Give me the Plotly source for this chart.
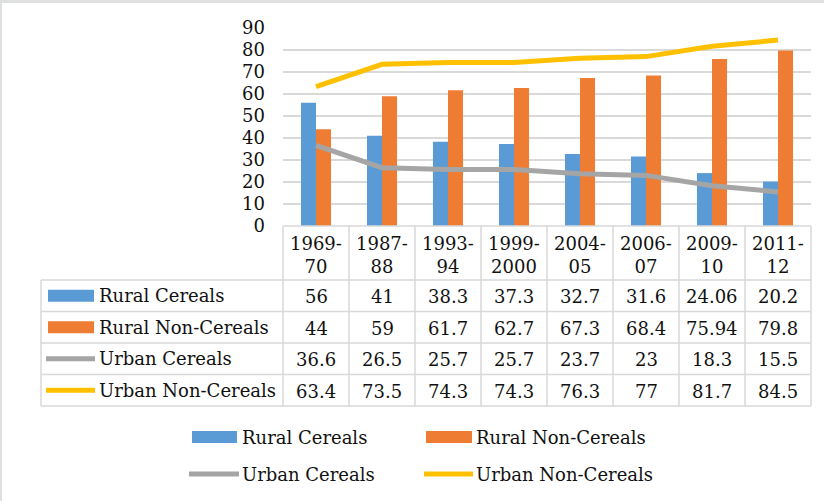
import plotly.graph_objects as go

periods = ["1969-70", "1987-88", "1993-94", "1999-2000", "2004-05", "2006-07", "2009-10", "2011-12"]
rural_cereals = [56, 41, 38.3, 37.3, 32.7, 31.6, 24.06, 20.2]
rural_non_cereals = [44, 59, 61.7, 62.7, 67.3, 68.4, 75.94, 79.8]
urban_cereals = [36.6, 26.5, 25.7, 25.7, 23.7, 23, 18.3, 15.5]
urban_non_cereals = [63.4, 73.5, 74.3, 74.3, 76.3, 77, 81.7, 84.5]

BLUE = '#5B9BD5'
ORANGE = '#EE7D33'
GREY = '#A5A5A5'
YELLOW = '#FFC000'
GRID = '#D9D9D9'
FONT = 'DejaVu Serif'
TXT = '#111111'

W, H = 824, 501
# plot area in pixels
L, R, T, B = 283, 811, 28, 226


def px(x):
	return (x - L) / (R - L)


def py(y):
	return (B - y) / (B - T)


series = [
	('Rural Cereals', rural_cereals, 'bar', BLUE),
	('Rural Non-Cereals', rural_non_cereals, 'bar', ORANGE),
	('Urban Cereals', urban_cereals, 'line', GREY),
	('Urban Non-Cereals', urban_non_cereals, 'line', YELLOW),
]

fig = go.Figure()
for name, vals, kind, col in series:
	if kind == 'bar':
		fig.add_trace(go.Bar(x=periods, y=vals, name=name, marker=dict(color=col, line=dict(width=0)),
							 showlegend=False, hoverinfo='y+name'))
for name, vals, kind, col in series:
	if kind == 'line':
		fig.add_trace(go.Scatter(x=periods, y=vals, name=name, mode='lines',
								 line=dict(color=col, width=5), showlegend=False))

shapes = []
annotations = []
line_style = dict(color=GRID, width=1.5)

# table grid
top_hdr, hdr_bot = 226, 280
row_h = 31.5
tab_left, tab_bot = 41, hdr_bot + 4 * row_h
col_w = (R - L) / len(periods)
# horizontal lines
shapes.append(dict(type='line', xref='paper', yref='paper', x0=px(L), x1=px(R), y0=py(top_hdr), y1=py(top_hdr), line=line_style))
for i in range(5):
	yy = hdr_bot + i * row_h
	shapes.append(dict(type='line', xref='paper', yref='paper', x0=px(tab_left), x1=px(R), y0=py(yy), y1=py(yy), line=line_style))
# vertical lines
shapes.append(dict(type='line', xref='paper', yref='paper', x0=px(tab_left), x1=px(tab_left), y0=py(hdr_bot), y1=py(tab_bot), line=line_style))
for i in range(len(periods) + 1):
	xx = L + i * col_w
	shapes.append(dict(type='line', xref='paper', yref='paper', x0=px(xx), x1=px(xx), y0=py(top_hdr), y1=py(tab_bot), line=line_style))

# header labels
for p in periods:
	annotations.append(dict(x=p, xref='x', y=py(255), yref='paper', text=p.replace('-', '-<br>'),
							showarrow=False, font=dict(family=FONT, size=18, color=TXT), xanchor='center', yanchor='middle'))


def key(x0, x1, yc, kind, col):
	if kind == 'bar':
		return dict(type='rect', xref='paper', yref='paper', x0=px(x0), x1=px(x1), y0=py(yc - 6), y1=py(yc + 6),
					fillcolor=col, line=dict(width=0))
	return dict(type='line', xref='paper', yref='paper', x0=px(x0), x1=px(x1), y0=py(yc), y1=py(yc),
				line=dict(color=col, width=5))


# rows
for r, (name, vals, kind, col) in enumerate(series):
	yc = hdr_bot + (r + 0.5) * row_h
	if kind == 'bar':
		shapes.append(key(48, 94, yc, kind, col))
	else:
		shapes.append(key(46, 95, yc, kind, col))
	annotations.append(dict(x=px(97), xref='paper', y=py(yc), yref='paper', text=name, showarrow=False,
							font=dict(family=FONT, size=18, color=TXT), xanchor='left', yanchor='middle'))
	for p, v in zip(periods, vals):
		annotations.append(dict(x=p, xref='x', y=py(yc + 1), yref='paper', text=str(v), showarrow=False,
								font=dict(family=FONT, size=18, color=TXT), xanchor='center', yanchor='middle'))

# bottom legend
leg_pos = [(192, 237, 437, 240), (426, 472, 437, 474), (189, 239, 474, 240), (424, 473, 474, 474)]
for (name, vals, kind, col), (x0, x1, yc, tx) in zip(series, leg_pos):
	shapes.append(key(x0, x1, yc, kind, col))
	annotations.append(dict(x=px(tx), xref='paper', y=py(yc), yref='paper', text=name, showarrow=False,
							font=dict(family=FONT, size=18, color=TXT), xanchor='left', yanchor='middle'))

# chart border (top/left edge visible)
shapes.append(dict(type='line', xref='paper', yref='paper', x0=px(0), x1=px(W), y0=py(1.5), y1=py(1.5),
				   line=dict(color='#DFE1E1', width=3)))
shapes.append(dict(type='line', xref='paper', yref='paper', x0=px(1), x1=px(1), y0=py(0), y1=py(H),
				   line=dict(color='#DFE1E1', width=2)))

fig.update_layout(
	width=W,
	height=H,
	autosize=False,
	margin=dict(l=L, r=W - R, t=T, b=H - B, pad=0),
	paper_bgcolor='white',
	plot_bgcolor='white',
	barmode='group',
	bargap=0.545,
	bargroupgap=0,
	showlegend=False,
	font=dict(family=FONT, size=18, color=TXT),
	xaxis=dict(type='category', showticklabels=False, showgrid=False, zeroline=False, showline=False, ticks=''),
	yaxis=dict(range=[0, 90], dtick=10, showgrid=True, gridcolor=GRID, gridwidth=1.5, zeroline=False,
			   showline=False, ticks='', ticklabelstandoff=17, tickfont=dict(family=FONT, size=18, color=TXT)),
	shapes=shapes,
	annotations=annotations,
)

# drop the default page margin so the figure sits at the window's corner
fig.write_html("out.html", config={'displayModeBar': False},
			   post_script="document.body.style.margin='0';")
